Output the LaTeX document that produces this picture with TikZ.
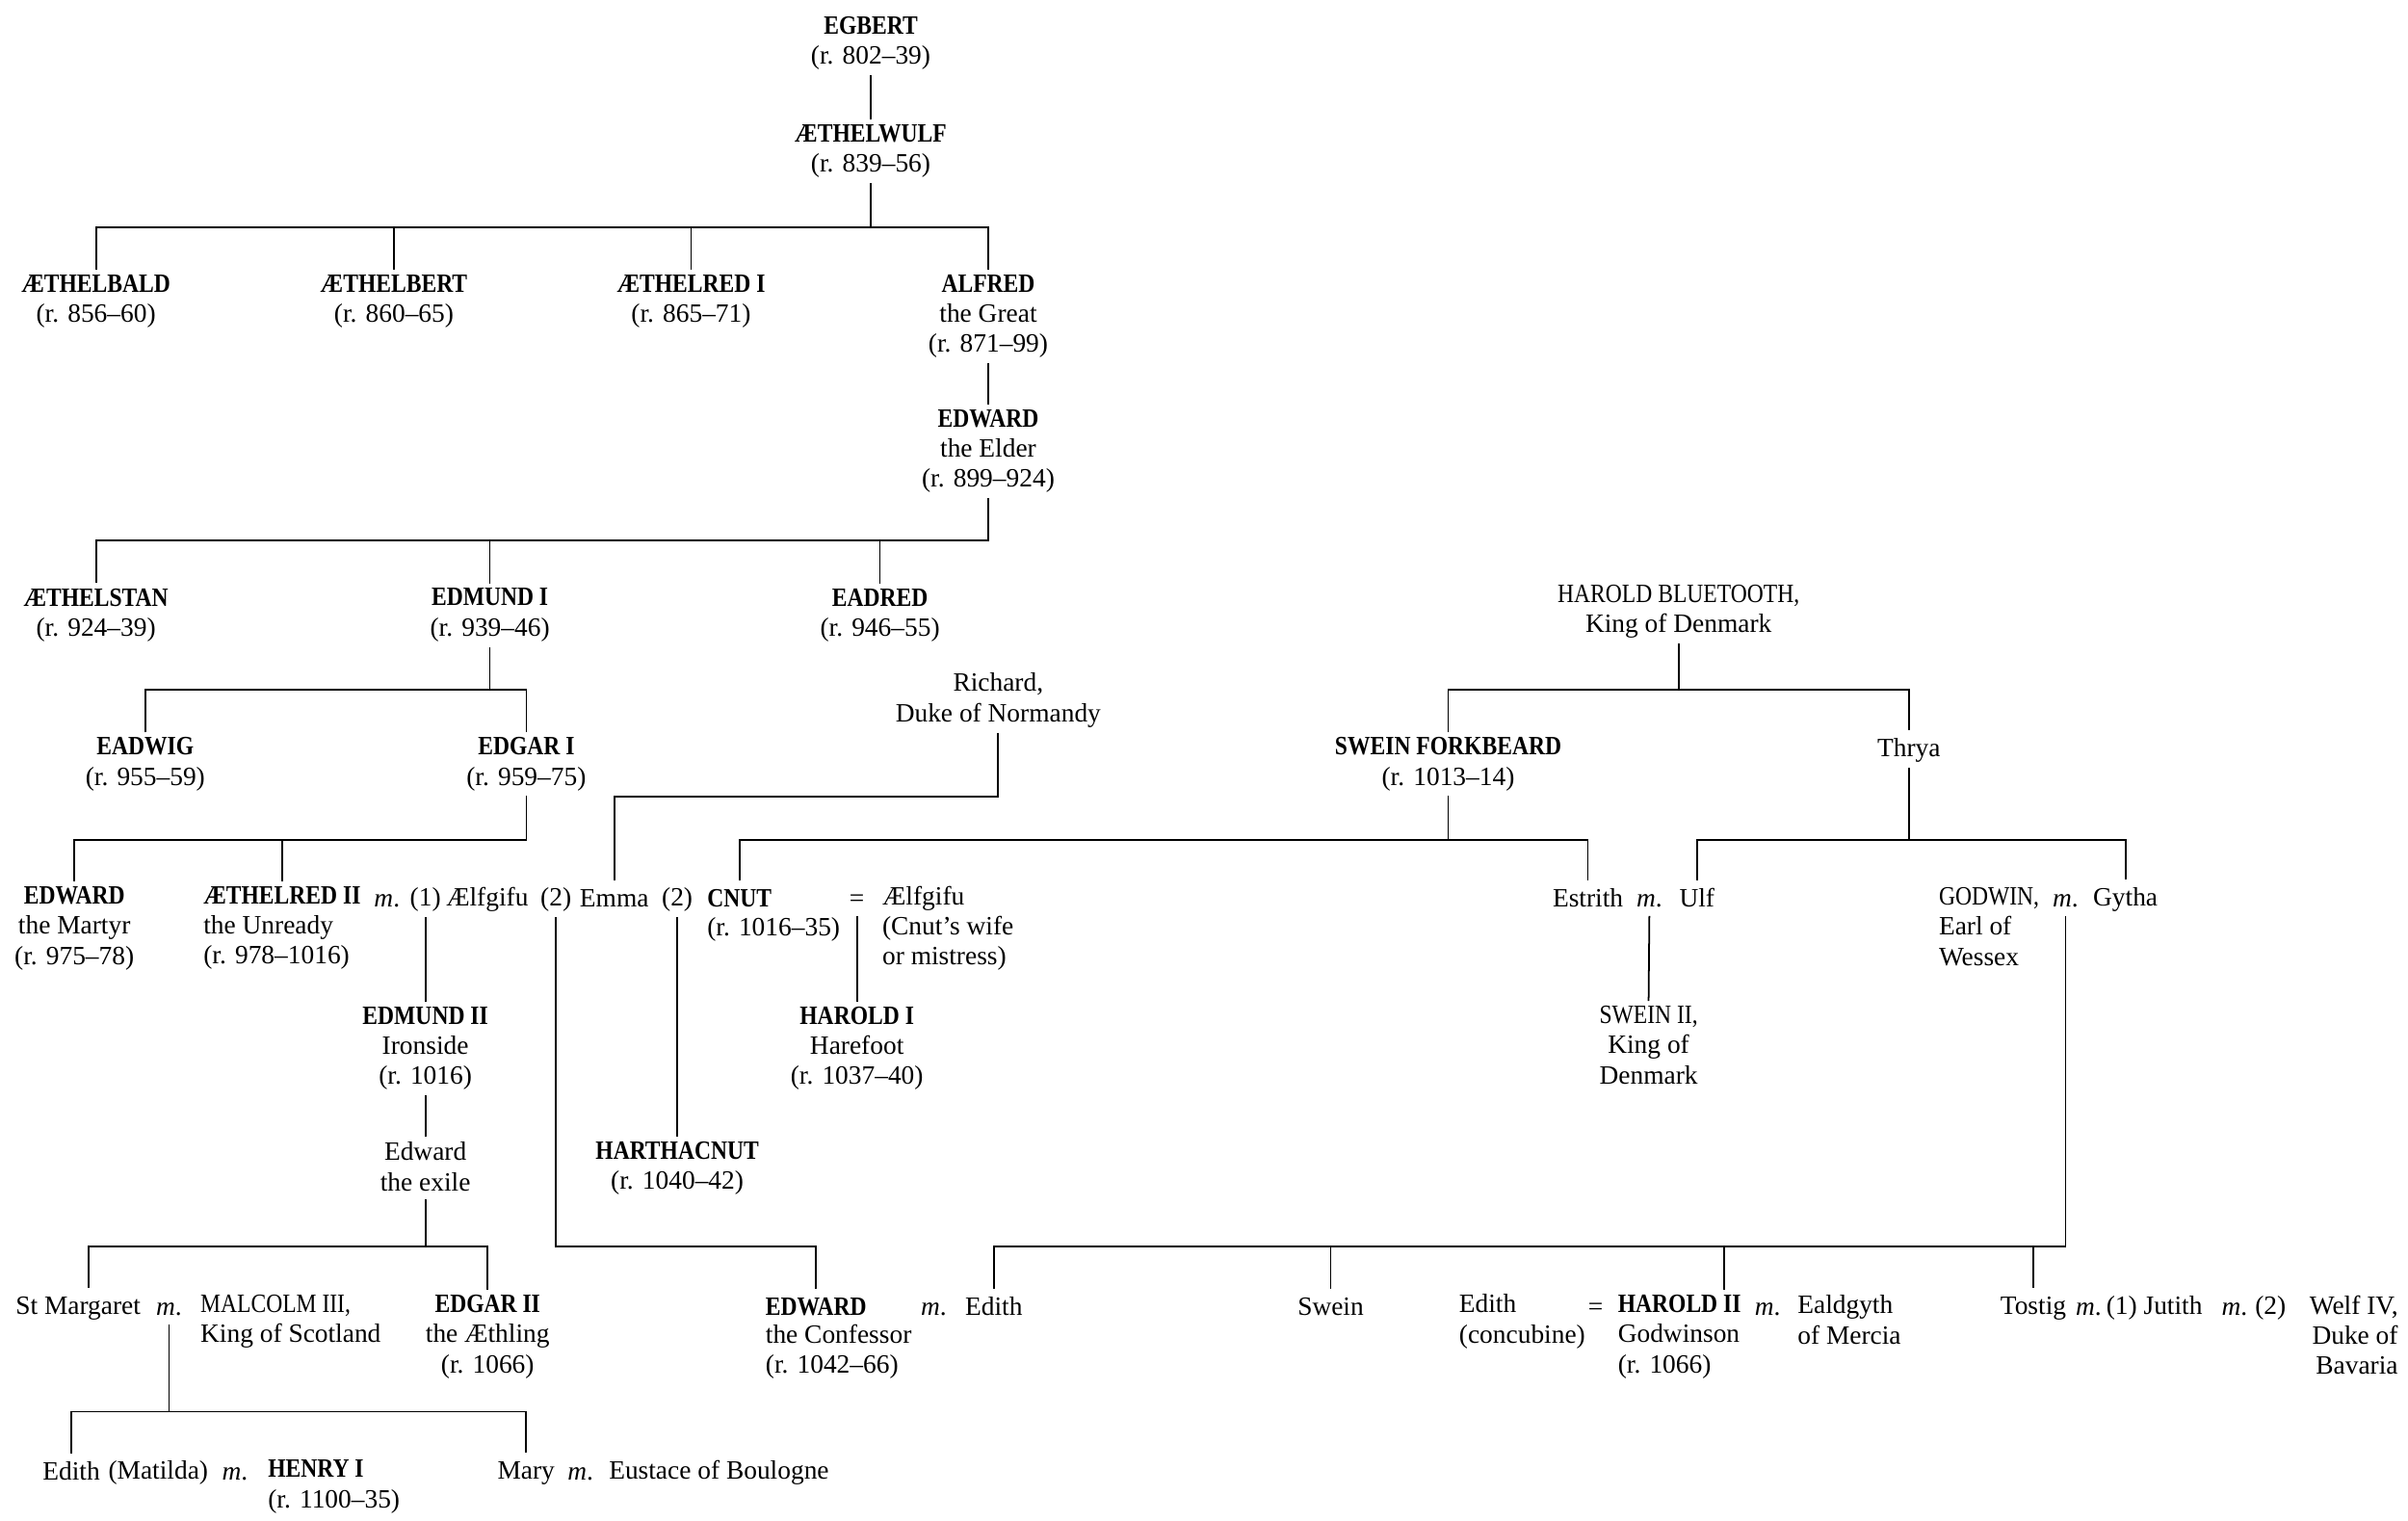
\documentclass[tikz,border=0pt]{standalone}
\usepackage{fontspec}
\setmainfont{Liberation Serif}
\newfontfamily\capsfont{Liberation Serif}[FakeStretch=0.86]
\usetikzlibrary{positioning}
\newcommand{\rey}[1]{{\capsfont\bfseries #1}}
\newcommand{\mayus}[1]{{\capsfont #1}}
\newcommand{\casado}{\textit{m}.}
\newcommand{\puntal}{\vrule width 0pt height 6.3pt depth 1.1pt}
\begin{document}
\begin{tikzpicture}[x=0.015944cm, y=-0.015944cm, line width=0.5pt,
    every node/.style={font=\fontsize{7.8}{8.9}\selectfont, inner xsep=0pt, inner ysep=1.3pt,
      align=center, execute at begin node=\puntal, execute at end node=\puntal},
    izq/.style={anchor=west, align=left},
    der/.style={anchor=east, align=right}]
    \useasboundingbox (0,-3) rectangle (1568,987.3);

    % Niveles de las barras
    \coordinate (b1) at (0,145);
    \coordinate (b2) at (0,349);
    \coordinate (b3) at (0,446);
    \coordinate (bR) at (0,515.6);
    \coordinate (b4) at (0,543.7);
    \coordinate (b5) at (0,808.5);
    \coordinate (b6) at (0,916.2);

    % Egbert y Æthelwulf
    \node (egbert) at (567,25.2) {\rey{EGBERT}\\(r. 802–39)};
    \node (aethelwulf) at (567,95.4) {\rey{ÆTHELWULF}\\(r. 839–56)};

    % Hijos de Æthelwulf
    \node (aethelbald) at (62.5,193.1) {\rey{ÆTHELBALD}\\(r. 856–60)};
    \node (aethelbert) at (256.5,193.1) {\rey{ÆTHELBERT}\\(r. 860–65)};
    \node (aethelredI) at (450,193.1) {\rey{ÆTHELRED I}\\(r. 865–71)};
    \node (alfred) at (643.5,203) {\rey{ALFRED}\\the Great\\(r. 871–99)};
    \node (edwardElder) at (643.5,290.8) {\rey{EDWARD}\\the Elder\\(r. 899–924)};

    % Hijos de Edward y de Edmund I
    \node (aethelstan) at (62.5,397.5) {\rey{ÆTHELSTAN}\\(r. 924–39)};
    \node (edmundI) at (319,397.5) {\rey{EDMUND I}\\(r. 939–46)};
    \node (eadred) at (573,397.5) {\rey{EADRED}\\(r. 946–55)};
    \node (eadwig) at (94.6,494.6) {\rey{EADWIG}\\(r. 955–59)};
    \node (edgarI) at (342.7,494.6) {\rey{EDGAR I}\\(r. 959–75)};

    % Normandía y Dinamarca
    \node (richard) at (650,453) {Richard,\\Duke of Normandy};
    \node (bluetooth) at (1093,395) {\mayus{HAROLD BLUETOOTH,}\\King of Denmark};
    \node (swein) at (943,494.6) {\rey{SWEIN FORKBEARD}\\(r. 1013–14)};
    \node (thrya) at (1243,484.7) {Thrya};

    % Fila de Æthelred II y Cnut
    \node (edwardMartyr) at (48.4,601.4) {\rey{EDWARD}\\the Martyr\\(r. 975–78)};
    \node[izq] (aethelredII) at (132,601.4) {\rey{ÆTHELRED II}\\the Unready\\(r. 978–1016)};
    \node (mA) at (252,581.8) {\casado};
    \node (unoA) at (277,581.8) {(1)};
    \node[izq] (aelfgifuA) at (290,581.8) {Ælfgifu};
    \node (dosA) at (362,581.8) {(2)};
    \node (emma) at (400,581.8) {Emma};
    \node (dosB) at (441,581.8) {(2)};
    \node[izq] (cnut) at (460,581.8) {\rey{CNUT}};
    \node[izq] (cnutR) at (460,601.4) {(r. 1016–35)};
    \node (igualA) at (558,581.8) {=};
    \node[izq] (aelfgifuB) at (574,601.4) {Ælfgifu\\(Cnut’s wife\\or mistress)};
    \node (estrith) at (1034,581.8) {Estrith};
    \node (mB) at (1074,581.8) {\casado};
    \node (ulf) at (1105,581.8) {Ulf};
    \node[izq] (godwin) at (1262,601.4) {\mayus{GODWIN,}\\Earl of\\Wessex};
    \node (mC) at (1345,581.8) {\casado};
    \node (gytha) at (1384,581.8) {Gytha};

    % Siguiente generación
    \node (edmundII) at (277,679.6) {\rey{EDMUND II}\\Ironside\\(r. 1016)};
    \node (haroldI) at (558,679.6) {\rey{HAROLD I}\\Harefoot\\(r. 1037–40)};
    \node (sweinII) at (1073.5,678.6) {\mayus{SWEIN II,}\\King of\\Denmark};
    \node (edwardExile) at (277,757.7) {Edward\\the exile};
    \node (harthacnut) at (441,757.7) {\rey{HARTHACNUT}\\(r. 1040–42)};

    % Fila de 1066
    \node[izq] (margaret) at (9.7,847.8) {St Margaret};
    \node (mD) at (110,847.8) {\casado};
    \node[izq] (malcolm) at (130,857.5) {\mayus{MALCOLM III,}\\King of Scotland};
    \node (edgarII) at (317.5,867.4) {\rey{EDGAR II}\\the Æthling\\(r. 1066)};
    \node[izq] (edwardConf) at (498,847.8) {\rey{EDWARD}};
    \node[izq] (edwardConfR) at (498,877.2) {the Confessor\\(r. 1042–66)};
    \node (mE) at (608,847.8) {\casado};
    \node[izq] (edithA) at (628,847.8) {Edith};
    \node (sweinB) at (866.5,847.8) {Swein};
    \node[izq] (edithB) at (949.6,857.5) {Edith\\(concubine)};
    \node (igualB) at (1039,847.8) {=};
    \node[izq] (haroldII) at (1053,867.4) {\rey{HAROLD II}\\Godwinson\\(r. 1066)};
    \node (mF) at (1151,847.8) {\casado};
    \node[izq] (ealdgyth) at (1170,857.5) {Ealdgyth\\of Mercia};
    \node (tostig) at (1324,847.8) {Tostig};
    \node (mG) at (1360,847.8) {\casado};
    \node[izq] (jutith) at (1371,847.8) {(1) Jutith};
    \node (mH) at (1455,847.8) {\casado};
    \node (dosC) at (1478.5,847.8) {(2)};
    \node[der] (welf) at (1562,867.4) {Welf IV,\\Duke of\\Bavaria};

    % Última fila
    \node[izq] (edithC) at (27.3,955.2) {Edith};
    \node[right=2pt of edithC] (matilda) {(Matilda)};
    \node (mI) at (153,955.2) {\casado};
    \node[izq] (henry) at (174,965.1) {\rey{HENRY I}\\(r. 1100–35)};
    \node (mary) at (342.6,955.2) {Mary};
    \node (mJ) at (378,955.2) {\casado};
    \node[izq] (eustace) at (396,955.2) {Eustace of Boulogne};

    % Puntos de enganche fuera del centro
    \coordinate (margaretTop) at ([xshift=0.11cm]margaret.north);
    \coordinate (haroldIITop) at ([xshift=-0.183cm]haroldII.north east);

    % Líneas de descendencia
    \draw (egbert.south) -- (aethelwulf.north);
    \draw (aethelwulf.south) -- (aethelwulf.south |- b1);
    \draw (aethelbald.north) |- (alfred.north |- b1) -- (alfred.north);
    \draw (aethelbert.north) -- (aethelbert.north |- b1);
    \draw (aethelredI.north) -- (aethelredI.north |- b1);
    \draw (alfred.south) -- (edwardElder.north);
    \draw (edwardElder.south) |- (aethelstan.north |- b2) -- (aethelstan.north);
    \draw (edmundI.north) -- (edmundI.north |- b2);
    \draw (eadred.north) -- (eadred.north |- b2);
    \draw (edmundI.south) -- (edmundI.south |- b3);
    \draw (eadwig.north) |- (edgarI.north |- b3) -- (edgarI.north);
    \draw (edgarI.south) |- (edwardMartyr.north |- b4) -- (edwardMartyr.north);
    \draw (aethelredII.north) -- (aethelredII.north |- b4);
    \draw (richard.south) |- (emma.north |- bR) -- (emma.north);
    \draw (bluetooth.south) -- (bluetooth.south |- b3);
    \draw (swein.north) |- (thrya.north |- b3) -- (thrya.north);
    \draw (swein.south) -- (swein.south |- b4);
    \draw (cnut.north) |- (estrith.north |- b4) -- (estrith.north);
    \draw (thrya.south) -- (thrya.south |- b4);
    \draw (ulf.north) |- (gytha.north |- b4) -- (gytha.north);
    \draw (unoA.south) -- (edmundII.north);
    \draw (igualA.south) -- (haroldI.north);
    \draw (dosB.south) -- (harthacnut.north);
    \draw (mB.south) -- (sweinII.north);
    \draw (edmundII.south) -- (edwardExile.north);
    \draw (edwardExile.south) -- (edwardExile.south |- b5);
    \draw (margaretTop) |- (edgarII.north |- b5) -- (edgarII.north);
    \draw (dosA.south) |- (edwardConf.north |- b5) -- (edwardConf.north);
    \draw (mC.south) |- (edithA.north |- b5) -- (edithA.north);
    \draw (sweinB.north) -- (sweinB.north |- b5);
    \draw (haroldIITop) -- (haroldIITop |- b5);
    \draw (tostig.north) -- (tostig.north |- b5);
    \draw (mD.south) -- (mD.south |- b6);
    \draw (edithC.north) |- (mary.north |- b6) -- (mary.north);
\end{tikzpicture}
\end{document}
